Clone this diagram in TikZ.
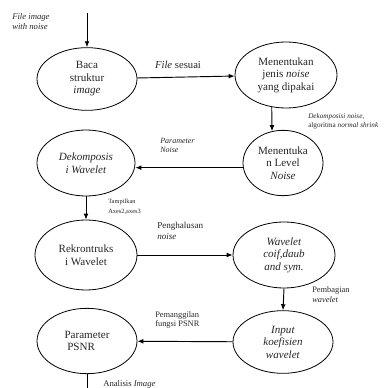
\documentclass[tikz,border=0pt]{standalone}
\usepackage{fontspec}
\setmainfont{Liberation Serif}
\usetikzlibrary{shapes.geometric,arrows.meta,calc}
\begin{document}
\begin{tikzpicture}[x=0.75pt,y=-0.75pt,
  proc/.style={ellipse,draw,line width=0.6pt,inner sep=0pt,align=center,
    font=\fontsize{8.3}{9.4}\selectfont,text=black!85},
  arr/.style={line width=0.7pt,-{Latex[length=4.5pt,width=3.6pt]}},
  ln/.style={line width=0.7pt},
  lab/.style={align=left,inner sep=0pt,anchor=north west,text=black!85},
]
\useasboundingbox (0,0) rectangle (384,388);
\begin{scope}
\clip (0,0) rectangle (384,388);
% process ellipses
\node[proc,minimum width=75pt,minimum height=47pt] (e1) at (87,79) {Baca\\struktur\\\textit{image}};
\node[proc,minimum width=76.5pt,minimum height=49.5pt] (e2) at (286,75) {Menentukan\\jenis \textit{noise}\\yang dipakai};
\node[proc,minimum width=60pt,minimum height=49pt] (e3) at (283,163) {Menentuka\\n Level\\\textit{Noise}};
\node[proc,minimum width=73.5pt,minimum height=49.5pt] (e4) at (86,163) {\textit{Dekomposis}\\\textit{i Wavelet}};
\node[proc,minimum width=76.5pt,minimum height=52.5pt] (e5) at (86,255) {Rekrontruks\\i Wavelet};
\node[proc,minimum width=76.5pt,minimum height=49.5pt] (e6) at (284,255) {\textit{Wavelet}\\\textit{coif,daub}\\\textit{and sym.}};
\node[proc,minimum width=75pt,minimum height=47pt] (e7) at (283,342) {\textit{Input}\\\textit{koefisien}\\\textit{wavelet}};
\node[proc,minimum width=75pt,minimum height=49pt] (e8) at (87,341) {Parameter\\PSNR\phantom{ter}};
% free ends
\coordinate (in) at (87,13);
\coordinate (out) at (87,392);
% connectors
\draw[arr] (in) -- (e1.north);
\draw[arr] (e1) -- (e2);
\draw[arr] (e2.246) -- (e3.109);
\draw[arr] ([yshift=-3.5pt]e3.west) -- ([yshift=-3.5pt]e4.east);
\draw[arr] (e4.south) -- (e5.north);
\draw[arr] (e5) -- (e6);
\draw[arr] (e6.south) -- (e7.north);
\draw[arr] (e7) -- (e8);
\draw[ln] (e8.south) -- (out);
% labels
\node[lab,font=\fontsize{6.5}{7.6}\selectfont\itshape] (l1) at (12,13) {File image\\with noise};
\node[lab,font=\fontsize{8}{9}\selectfont,anchor=south] (l2) at (178,69) {\textit{File} sesuai};
\node[lab,font=\fontsize{5.4}{6.6}\selectfont] (l3) at (308,113) {\textit{Dekomposisi noise,}\\algoritma \textit{normal shrink}};
\node[lab,font=\fontsize{6}{7}\selectfont\itshape] (l4) at (160,138) {Parameter\\Noise};
\node[lab,font=\fontsize{4.8}{7}\selectfont] (l5) at (108,199) {Tampilkan\\Axes2,axes3};
\node[lab,font=\fontsize{6.8}{8}\selectfont] (l6) at (157,222) {Penghalusan\\\textit{noise}};
\node[lab,font=\fontsize{6.3}{8}\selectfont] (l7) at (312,286) {Pembagian\\\textit{wavelet}};
\node[lab,font=\fontsize{6.3}{7.2}\selectfont] (l8) at (155,311) {Pemanggilan\\fungsi PSNR};
\node[lab,font=\fontsize{6.5}{8}\selectfont] (l9) at (103,380) {Analisis \textit{Image}};
\end{scope}
\end{tikzpicture}
\end{document}
